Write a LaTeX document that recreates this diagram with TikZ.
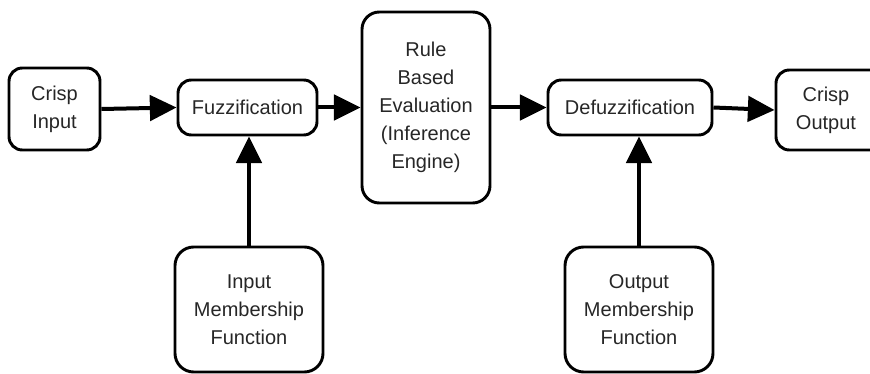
\documentclass[tikz,border=0pt]{standalone}
\usepackage{fontspec}
\setmainfont{Liberation Sans}
\usepackage{tikz}
\usetikzlibrary{arrows.meta,positioning}
\definecolor{boxtext}{HTML}{262626}

\tikzset{
  block/.style={draw, line width=2.2pt, rounded corners=10pt, align=center,
    inner sep=0pt, text=boxtext, font=\fontsize{15}{21}\selectfont},
  flow/.style={line width=3pt, -{Triangle[length=20pt,width=19pt]}}
}

\begin{document}
\begin{tikzpicture}[x=0.75pt, y=-0.75pt]
    \useasboundingbox (0,0) rectangle (870,374);

    % Main chain
    \node[block, minimum width=68.25pt, minimum height=61.5pt] (crispin) at (54.5,109) {Crisp\\Input};
    \node[block, minimum width=104.25pt, minimum height=41.25pt] (fuzz) at (247.5,107.5) {Fuzzification};
    \node[block, rounded corners=13pt, minimum width=96pt, minimum height=143.25pt] (rules) at (426,107.5) {Rule\\Based\\Evaluation\\(Inference\\Engine)};
    \node[block, minimum width=123pt, minimum height=41.25pt] (defuzz) at (630,107.5) {Defuzzification};
    % runs past the right edge
    \node[block, minimum width=84pt, minimum height=60pt] (crispout) at (832,110) {Crisp\hspace*{9pt}\\Output\hspace*{9pt}};

    % Membership functions
    \node[block, rounded corners=14pt, minimum width=111pt, minimum height=93.75pt] (inmf) at (249,309.5) {Input\\Membership\\Function};
    \node[block, rounded corners=14pt, minimum width=111pt, minimum height=93.75pt] (outmf) at (639,309.5) {Output\\Membership\\Function};

    % Connectors
    \draw[flow] (crispin.east) -- (fuzz.west);
    \draw[flow] (fuzz.east) -- (rules.west |- fuzz.east);
    \draw[flow] (rules.east |- defuzz.west) -- (defuzz.west);
    \draw[flow] (defuzz.east) -- (crispout.west);
    \draw[flow] (inmf.north) -- (inmf.north |- fuzz.south);
    \draw[flow] (outmf.north) -- (outmf.north |- defuzz.south);
\end{tikzpicture}
\end{document}
